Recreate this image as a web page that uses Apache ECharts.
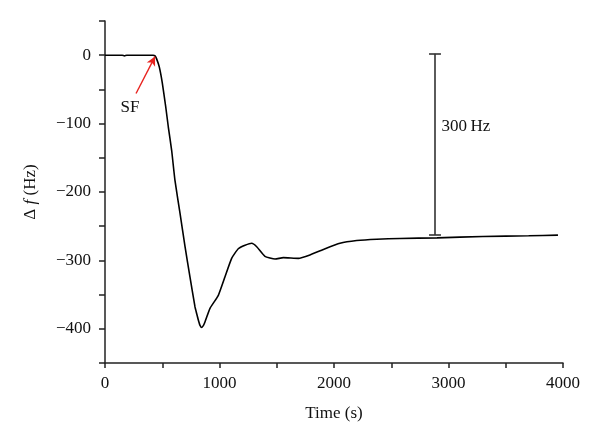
<!DOCTYPE html>
<html>
<head>
<meta charset="utf-8">
<script src="https://cdn.jsdelivr.net/npm/echarts@6/dist/echarts.min.js"></script>
<style>
  html, body { margin: 0; padding: 0; background: #fff; }
  #chart { width: 600px; height: 444px; }
</style>
</head>
<body>
<div id="chart"></div>
<script>
// 曲线数据：时间 (s) 与频率变化 (Hz)
const times = [0, 100, 150, 170, 190, 250, 350, 420, 437, 450, 474, 500, 530, 553, 582, 611, 655, 699, 742, 786, 801, 815, 830, 845, 860, 873, 917, 990, 1048, 1106, 1164, 1223, 1281, 1325, 1397, 1485, 1557, 1689, 1790, 1907, 2052, 2198, 2373, 2576, 2900, 3300, 3700, 3956];
const deltaF = [0, 0, 0, -1, 0, 0, 0, 0, -1, -5, -17, -40, -75, -105, -139, -183, -231, -280, -324, -368, -378, -387, -395, -398, -395, -390, -370, -351, -324, -297, -283, -278, -275, -280, -294, -298, -296, -297, -292, -284, -275, -271, -269, -268, -267, -265, -264, -263];

// 标注：SF 箭头与 300 Hz 标尺
const sfArrow = [[271, -56], [437, -2]];
const sfLabel = [218, -77];
const scaleBarX = 2882;
const scaleBarY = [2, -263];
const scaleLabelY = -105;
const scaleCapHalf = 52;

const chart = echarts.init(document.getElementById('chart'));
const serif = 'Liberation Serif';

const option = {
  animation: false,
  backgroundColor: '#fff',
  grid: {
    left: 105,
    right: 37,
    top: 21,
    bottom: 81
  },
  xAxis: {
    type: 'value',
    min: 0,
    max: 4000,
    interval: 500,
    name: 'Time (s)',
    nameLocation: 'middle',
    nameGap: 42,
    nameTextStyle: { fontFamily: serif, fontSize: 17, color: '#111' },
    splitLine: { show: false },
    axisLine: { onZero: false, lineStyle: { color: '#222', width: 1.5 } },
    axisTick: { length: 5, lineStyle: { color: '#222', width: 1.5 } },
    axisLabel: {
      fontFamily: serif,
      fontSize: 17,
      color: '#111',
      margin: 12,
      formatter: v => (v % 1000 === 0 ? String(v) : '')
    }
  },
  yAxis: {
    type: 'value',
    min: -450,
    max: 50,
    interval: 50,
    name: '{d|Δ }{f|f}{d| (Hz)}',
    nameLocation: 'middle',
    nameGap: 66,
    nameRotate: 90,
    nameTextStyle: {
      rich: {
        d: { fontFamily: serif, fontSize: 17, color: '#111' },
        f: { fontFamily: serif, fontSize: 17, fontStyle: 'italic', color: '#111' }
      }
    },
    splitLine: { show: false },
    axisLine: { onZero: false, lineStyle: { color: '#222', width: 1.5 } },
    axisTick: { length: 6, lineStyle: { color: '#222', width: 1.5 } },
    axisLabel: {
      fontFamily: serif,
      fontSize: 17,
      color: '#111',
      margin: 14,
      formatter: v => {
        if (v % 100 !== 0 || v > 0) return '';
        return v < 0 ? '\u2212' + Math.abs(v) : '0';
      }
    }
  },
  series: [
    {
      type: 'line',
      data: times.map((t, i) => [t, deltaF[i]]),
      showSymbol: false,
      smooth: 0.15,
      lineStyle: { color: '#000', width: 1.6 },
      markLine: {
        silent: true,
        animation: false,
        label: { show: false },
        data: [
          [
            { coord: sfArrow[0], symbol: 'none', lineStyle: { color: '#e8231f', width: 1.4, type: 'solid' } },
            { coord: sfArrow[1], symbol: 'arrow', symbolSize: [7, 9] }
          ],
          [
            { coord: [scaleBarX, scaleBarY[0]], symbol: 'none', lineStyle: { color: '#333', width: 1.6, type: 'solid' } },
            { coord: [scaleBarX, scaleBarY[1]], symbol: 'none' }
          ],
          [
            { coord: [scaleBarX - scaleCapHalf, scaleBarY[0]], symbol: 'none', lineStyle: { color: '#333', width: 1.6, type: 'solid' } },
            { coord: [scaleBarX + scaleCapHalf, scaleBarY[0]], symbol: 'none' }
          ],
          [
            { coord: [scaleBarX - scaleCapHalf, scaleBarY[1]], symbol: 'none', lineStyle: { color: '#333', width: 1.6, type: 'solid' } },
            { coord: [scaleBarX + scaleCapHalf, scaleBarY[1]], symbol: 'none' }
          ]
        ]
      },
      markPoint: {
        silent: true,
        symbol: 'circle',
        symbolSize: 1,
        itemStyle: { color: 'rgba(0,0,0,0)' },
        data: [
          {
            coord: sfLabel,
            label: { show: true, position: 'inside', formatter: 'SF', fontFamily: serif, fontSize: 17, color: '#111' }
          },
          {
            coord: [scaleBarX, scaleLabelY],
            label: {
              show: true,
              formatter: '300\u2009Hz',
              position: 'right',
              distance: 6,
              fontFamily: serif,
              fontSize: 17,
              color: '#111'
            }
          }
        ]
      }
    }
  ]
};

chart.setOption(option);
window.addEventListener('resize', () => chart.resize());
</script>
</body>
</html>
